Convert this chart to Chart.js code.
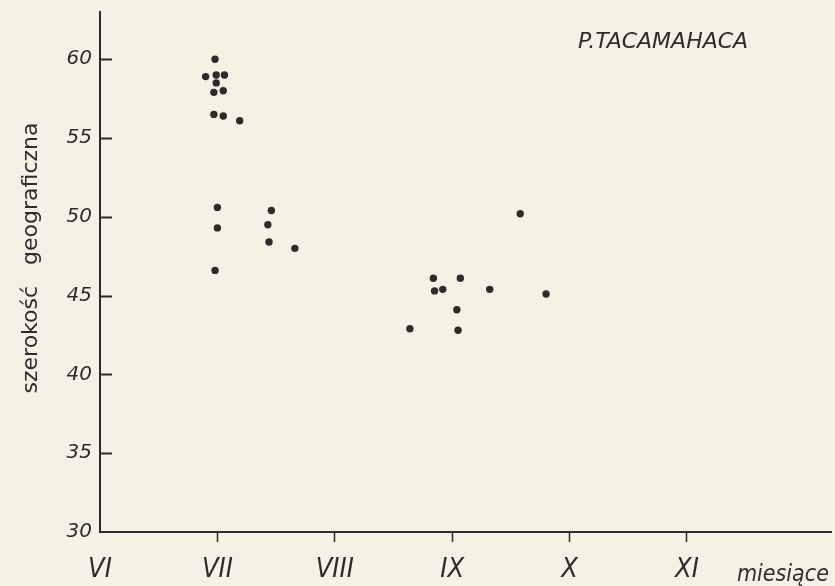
<!DOCTYPE html>
<html>
<head>
<meta charset="utf-8">
<script src="https://cdn.jsdelivr.net/npm/chart.js@4.4.0/dist/chart.umd.min.js"></script>
<style>
  html, body { margin: 0; padding: 0; background: #f4f2e5; }
  #wrap { width: 835px; height: 586px; }
</style>
</head>
<body>
<div id="wrap"><canvas id="chart" width="835" height="586"></canvas></div>
<script>
// months as numbers: 6 = VI (June) ... 11 = XI
const monthTicks = ['VI', 'VII', 'VIII', 'IX', 'X', 'XI'];
const latTicks = [30, 35, 40, 45, 50, 55, 60];

// observations: month position (x) and latitude (y)
const monthVals = [
  6.98, 6.90, 6.99, 7.06, 6.99, 6.97, 7.05, 6.97, 7.05, 7.19,
  7.00, 7.00, 6.98, 7.46, 7.43, 7.44, 7.66,
  8.84, 9.07, 8.85, 8.92, 9.32, 9.80, 9.04, 8.64, 9.05,
  9.58
];
const latVals = [
  60.0, 58.9, 59.0, 59.0, 58.5, 57.9, 58.0, 56.5, 56.4, 56.1,
  50.6, 49.3, 46.6, 50.4, 49.5, 48.4, 48.0,
  46.1, 46.1, 45.3, 45.4, 45.4, 45.1, 44.1, 42.9, 42.8,
  50.2
];

const seriesName = 'P.TACAMAHACA';
const xTitle = 'miesiące';
const yTitle = 'szerokość   geograficzna';

const ink = '#2e2c2a';
const points = monthVals.map((m, i) => ({ x: m, y: latVals[i] }));

// inward ticks on the y axis + the free-standing labels
const extras = {
  id: 'extras',
  afterDraw(chart) {
    const c = chart.ctx;
    const y = chart.scales.y;
    const x = chart.scales.x;
    c.save();
    c.strokeStyle = ink;
    c.lineWidth = 2;
    y.ticks.forEach((t, i) => {
      if (t.value === latTicks[0]) return;
      const py = Math.round(y.getPixelForTick(i)) + 0.5;
      c.beginPath();
      c.moveTo(y.right, py);
      c.lineTo(y.right + 12, py);
      c.stroke();
    });
    c.fillStyle = ink;
    c.textBaseline = 'middle';
    c.font = 'italic 22px "DejaVu Sans", sans-serif';
    c.textAlign = 'left';
    c.fillText(seriesName, 578, 42);
    c.font = 'italic 23px "Liberation Sans Narrow", "DejaVu Sans Condensed", sans-serif';
    c.fillText(xTitle, x.getPixelForValue(11) + 50, 575);
    // y axis title
    c.translate(31, 258);
    c.rotate(-Math.PI / 2);
    c.textAlign = 'center';
    c.font = '22px "DejaVu Sans", sans-serif';
    c.fillText(yTitle, 0, 0);
    c.restore();
  }
};

new Chart(document.getElementById('chart'), {
  type: 'scatter',
  data: {
    datasets: [{
      label: seriesName,
      data: points,
      backgroundColor: ink,
      borderWidth: 0,
      pointRadius: 3.7,
      pointHoverRadius: 3.7
    }]
  },
  options: {
    responsive: false,
    animation: false,
    layout: { padding: { top: 12, right: 0, left: 0, bottom: 0 } },
    plugins: { legend: { display: false }, tooltip: { enabled: false } },
    scales: {
      x: {
        type: 'linear',
        min: 6,
        max: 12.23,
        afterFit(s) { s.height = 54; s.paddingLeft = 0; s.paddingRight = 0; },
        border: { display: true, color: ink, width: 2 },
        grid: {
          drawOnChartArea: false,
          drawTicks: true,
          tickLength: 10,
          tickWidth: 1.5,
          tickColor: ctx => (ctx.tick && ctx.tick.value > 6 && ctx.tick.value < 12) ? ink : 'rgba(0,0,0,0)'
        },
        ticks: {
          stepSize: 1,
          includeBounds: false,
          maxRotation: 0,
          autoSkip: false,
          padding: 12,
          color: ink,
          font: { family: '"Liberation Sans Narrow", "DejaVu Sans Condensed", sans-serif', size: 27, style: 'italic' },
          callback: v => monthTicks[v - 6] || ''
        }
      },
      y: {
        min: 30,
        max: 63,
        afterFit(s) { s.width = 100; s.paddingTop = 0; s.paddingBottom = 0; },
        border: { display: true, color: ink, width: 2 },
        grid: { drawOnChartArea: false, drawTicks: false },
        ticks: {
          stepSize: 5,
          includeBounds: false,
          padding: 8,
          color: ink,
          font: { family: '"DejaVu Sans", sans-serif', size: 20, style: 'italic' },
          callback: v => latTicks.includes(v) ? String(v) : ''
        }
      }
    }
  },
  plugins: [extras]
});
</script>
</body>
</html>
